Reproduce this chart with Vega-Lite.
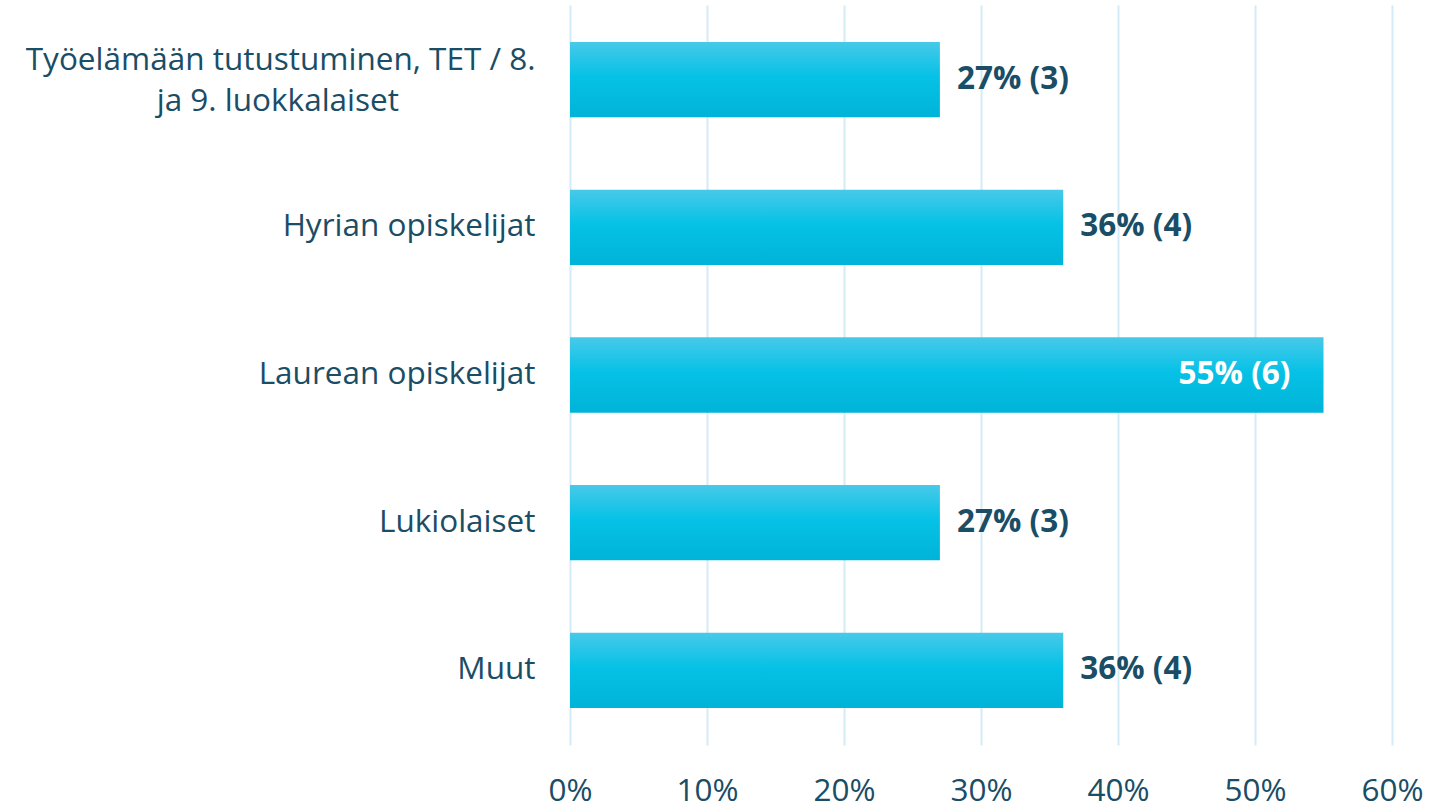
{
  "$schema": "https://vega.github.io/schema/vega-lite/v6.json",
  "width": 822,
  "height": 740,
  "autosize": {"type": "none"},
  "padding": {"left": 570, "top": 5, "right": 45, "bottom": 61},
  "background": "white",
  "config": {
    "view": {"stroke": null},
    "font": "Open Sans"
  },
  "data": {
    "values": [
      {"category": "Työelämään tutustuminen, TET / 8. ja 9. luokkalaiset", "value": 0.27, "label": "27% (3)"},
      {"category": "Hyrian opiskelijat", "value": 0.36, "label": "36% (4)"},
      {"category": "Laurean opiskelijat", "value": 0.55, "label": "55% (6)"},
      {"category": "Lukiolaiset", "value": 0.27, "label": "27% (3)"},
      {"category": "Muut", "value": 0.36, "label": "36% (4)"}
    ]
  },
  "encoding": {
    "y": {
      "field": "category",
      "type": "nominal",
      "sort": null,
      "scale": {"paddingInner": 0.49, "paddingOuter": 0.25},
      "axis": {
        "title": null,
        "domain": false,
        "ticks": false,
        "grid": false,
        "labelFont": "Open Sans",
        "labelFontSize": 31.5,
        "labelColor": "#1a4d66",
        "labelPadding": 35,
        "labelLimit": 600,
        "labelLineHeight": 41,
        "labelOffset": {"condition": {"test": "datum.value == 'Työelämään tutustuminen, TET / 8. ja 9. luokkalaiset'", "value": -19}, "value": 0},
        "labelExpr": "datum.label == 'Työelämään tutustuminen, TET / 8. ja 9. luokkalaiset' ? ['Työelämään tutustuminen, TET / 8.', 'ja 9. luokkalaiset\u2003\u2003\u2003\u2003\u2006\u2006\u200d'] : datum.label"
      }
    },
    "x": {
      "field": "value",
      "type": "quantitative",
      "scale": {"domain": [0, 0.6], "nice": false},
      "axis": {
        "title": null,
        "format": ".0%",
        "values": [0, 0.1, 0.2, 0.3, 0.4, 0.5, 0.6],
        "domain": false,
        "ticks": false,
        "grid": true,
        "gridColor": "#d4ecf8",
        "gridWidth": 2,
        "labelFont": "Open Sans",
        "labelFontSize": 31.5,
        "labelColor": "#1a4d66",
        "labelPadding": 30,
        "labelFlush": false
      }
    }
  },
  "layer": [
    {
      "mark": {
        "type": "bar",
        "color": {
          "gradient": "linear",
          "x1": 0, "y1": 0, "x2": 0, "y2": 1,
          "stops": [
            {"offset": 0, "color": "#48c9e9"},
            {"offset": 0.45, "color": "#06c2e6"},
            {"offset": 1, "color": "#00b3d8"}
          ]
        }
      }
    },
    {
      "transform": [{"filter": "datum.value < 0.5"}],
      "mark": {"type": "text", "align": "left", "baseline": "middle", "dx": 17, "fontSize": 31.5, "fontWeight": "bold", "font": "Open Sans", "color": "#1a4d66"},
      "encoding": {"text": {"field": "label"}}
    },
    {
      "transform": [{"filter": "datum.value >= 0.5"}],
      "mark": {"type": "text", "align": "right", "baseline": "middle", "dx": -33, "fontSize": 31.5, "fontWeight": "bold", "font": "Open Sans", "color": "white"},
      "encoding": {"text": {"field": "label"}}
    }
  ]
}
